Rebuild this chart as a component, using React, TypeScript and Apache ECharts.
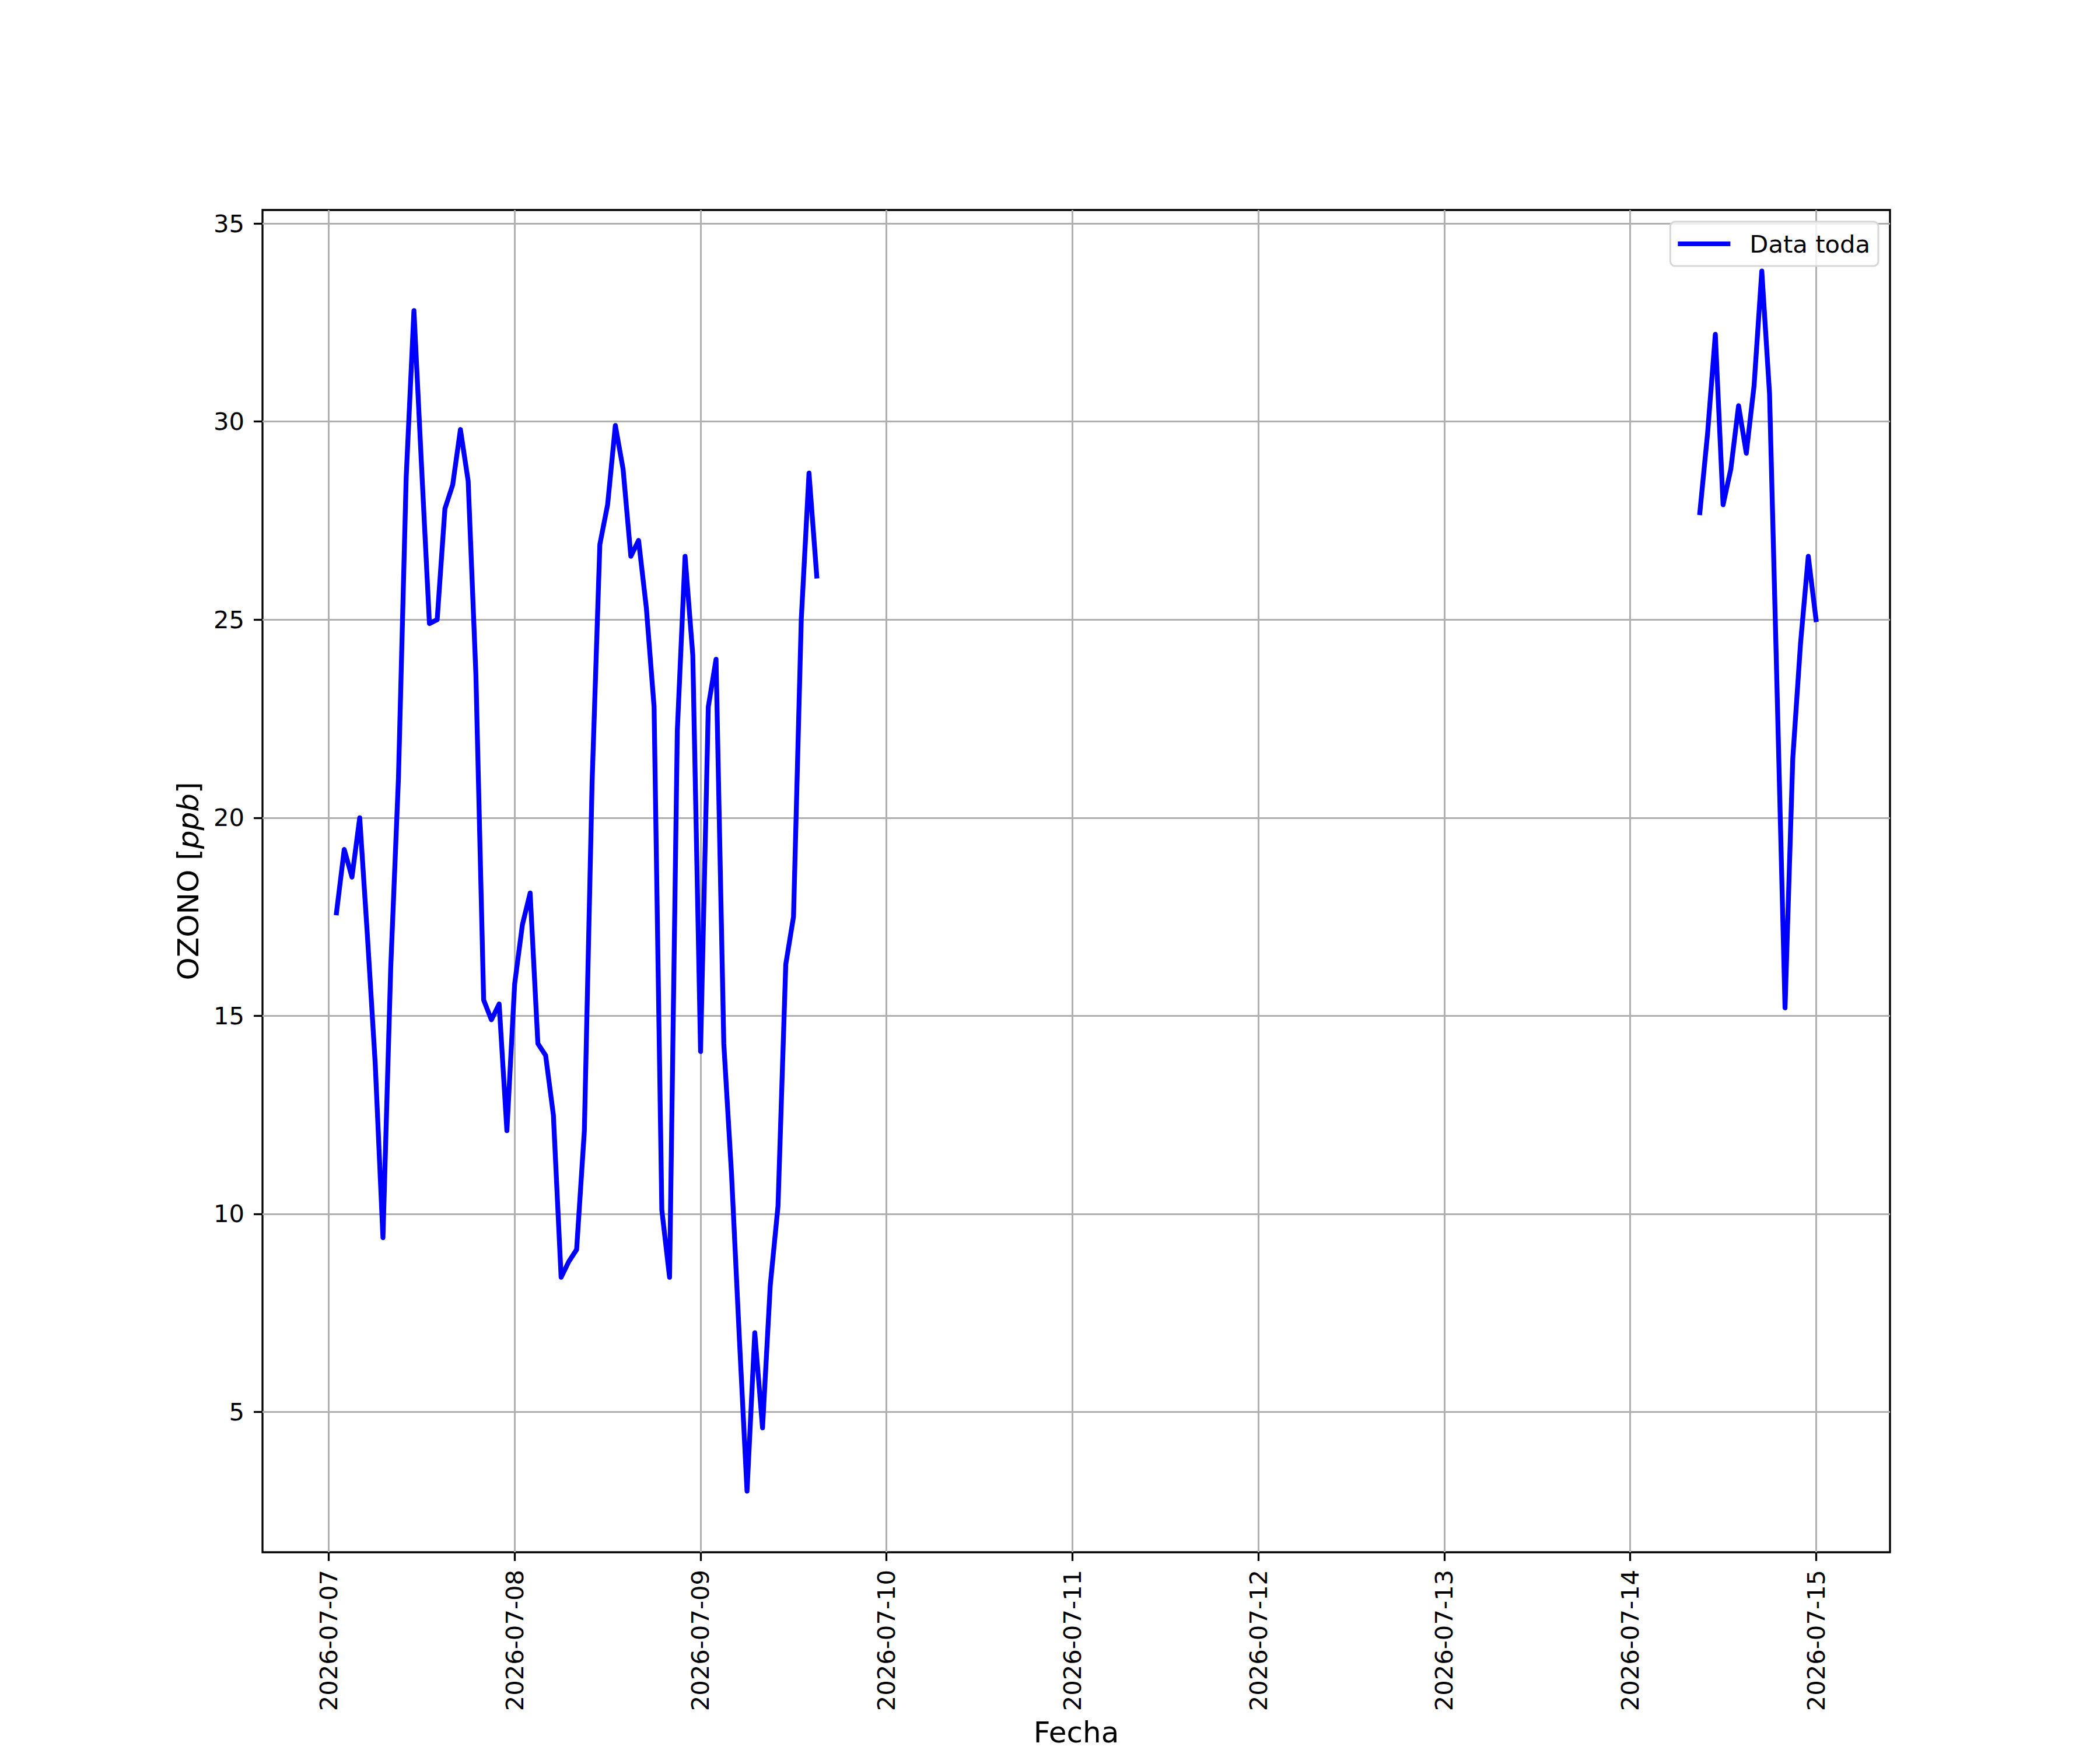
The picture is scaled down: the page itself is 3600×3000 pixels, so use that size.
import React, { useEffect, useRef } from "react";
import * as echarts from "echarts";

// Hourly ozone readings (ppb)
const SERIES_NAME = "Data toda";
const SEG1_START = "2026-07-07T01:00:00Z";
const SEG1_VALUES = [
  17.6, 19.2, 18.5, 20.0, 17.0, 13.8, 9.4, 16.2, 21.0, 28.6, 32.8, 28.8,
  24.9, 25.0, 27.8, 28.4, 29.8, 28.5, 23.6, 15.4, 14.9, 15.3, 12.1, 15.8,
  17.3, 18.1, 14.3, 14.0, 12.5, 8.4, 8.8, 9.1, 12.1, 20.9, 26.9, 27.9,
  29.9, 28.8, 26.6, 27.0, 25.3, 22.8, 10.1, 8.4, 22.2, 26.6, 24.1, 14.1,
  22.8, 24.0, 14.3, 11.0, 6.9, 3.0, 7.0, 4.6, 8.2, 10.2, 16.3, 17.5,
  25.0, 28.7, 26.1,
];
const SEG2_START = "2026-07-14T09:00:00Z";
const SEG2_VALUES = [
  27.7, 29.7, 32.2, 27.9, 28.8, 30.4, 29.2, 30.9, 33.8, 30.7, 23.0, 15.2,
  21.5, 24.4, 26.6, 25.0,
];
const X_TICK_DATES = [
  "2026-07-07", "2026-07-08", "2026-07-09", "2026-07-10", "2026-07-11",
  "2026-07-12", "2026-07-13", "2026-07-14", "2026-07-15",
];
const Y_TICKS = [5, 10, 15, 20, 25, 30, 35];
const X_LABEL = "Fecha";
const Y_LABEL = "OZONO [{i|ppb}]";

const HOUR = 3600 * 1000;
const FONT = "DejaVu Sans";

function pad2(n: number) {
  return n < 10 ? "0" + n : "" + n;
}
function fmtDate(t: number) {
  const d = new Date(Math.round(t));
  return d.getUTCFullYear() + "-" + pad2(d.getUTCMonth() + 1) + "-" + pad2(d.getUTCDate());
}

export default function App() {
  const ref = useRef<HTMLDivElement>(null);
  useEffect(() => {
    document.body.style.margin = "0";
    if (!ref.current) return;
    const chart = echarts.init(ref.current, undefined, { renderer: "svg" });

    const s1 = Date.parse(SEG1_START);
    const s2 = Date.parse(SEG2_START);
    const data: any[] = [];
    SEG1_VALUES.forEach((v, i) => data.push([s1 + i * HOUR, v]));
    data.push([s1 + SEG1_VALUES.length * HOUR, null]);
    SEG2_VALUES.forEach((v, i) => data.push([s2 + i * HOUR, v]));

    const tFirst = s1;
    const tLast = s2 + (SEG2_VALUES.length - 1) * HOUR;
    const xPad = (tLast - tFirst) * 0.05;
    const allV = SEG1_VALUES.concat(SEG2_VALUES);
    const vMin = Math.min(...allV);
    const vMax = Math.max(...allV);
    const yPad = (vMax - vMin) * 0.05;

    const xTicks = X_TICK_DATES.map((d) => Date.parse(d + "T00:00:00Z"));

    chart.setOption({
      animation: false,
      backgroundColor: "#ffffff",
      textStyle: { fontFamily: FONT },
      grid: {
        left: 450,
        right: 360,
        top: 360,
        bottom: 330,
        show: true,
        borderColor: "#000000",
        borderWidth: 3.3,
        backgroundColor: "transparent",
        containLabel: false,
      },
      legend: {
        show: true,
        right: 380,
        top: 380,
        orient: "vertical",
        data: [{ name: SERIES_NAME, icon: "rect" }],
        itemWidth: 90,
        itemHeight: 8,
        padding: [13, 14, 13, 13],
        backgroundColor: "rgba(255,255,255,0.8)",
        borderColor: "#d6d6d6",
        borderWidth: 3,
        borderRadius: 8,
        textStyle: {
          fontFamily: FONT,
          fontSize: 41.7,
          color: "#000000",
          lineHeight: 50,
          padding: [0, 0, 0, 28],
        },
      },
      xAxis: {
        type: "value",
        min: tFirst - xPad,
        max: tLast + xPad,
        name: X_LABEL,
        nameLocation: "middle",
        nameGap: 284,
        nameTextStyle: { fontFamily: FONT, fontSize: 50, color: "#000000" },
        axisLine: { show: false },
        axisTick: {
          show: true,
          inside: false,
          length: 15,
          lineStyle: { color: "#000000", width: 3.3 },
          customValues: xTicks,
        },
        axisLabel: {
          show: true,
          rotate: 90,
          margin: 30,
          fontFamily: FONT,
          fontSize: 41.7,
          color: "#000000",
          customValues: xTicks,
          formatter: (v: number) => fmtDate(v),
        },
        splitLine: {
          show: true,
          lineStyle: { color: "#b0b0b0", width: 3 },
        },
      },
      yAxis: {
        type: "value",
        min: vMin - yPad,
        max: vMax + yPad,
        name: Y_LABEL,
        nameLocation: "middle",
        nameRotate: 90,
        nameGap: 102,
        nameTextStyle: {
          fontFamily: FONT,
          fontSize: 50,
          color: "#000000",
          rich: {
            i: { fontFamily: FONT, fontSize: 50, fontStyle: "italic", color: "#000000" },
          },
        },
        axisLine: { show: false },
        axisTick: {
          show: true,
          inside: false,
          length: 15,
          lineStyle: { color: "#000000", width: 3.3 },
          customValues: Y_TICKS,
        },
        axisLabel: {
          show: true,
          margin: 31,
          fontFamily: FONT,
          fontSize: 41.7,
          color: "#000000",
          customValues: Y_TICKS,
          formatter: (v: number) => String(Math.round(v)),
        },
        splitLine: {
          show: true,
          lineStyle: { color: "#b0b0b0", width: 3 },
        },
      },
      series: [
        {
          name: SERIES_NAME,
          type: "line",
          data,
          showSymbol: false,
          connectNulls: false,
          color: "#0000ff",
          lineStyle: { color: "#0000ff", width: 8.3, cap: "square", join: "round" },
          z: 3,
        },
      ],
    });
    return () => chart.dispose();
  }, []);
  return <div ref={ref} style={{ width: 3600, height: 3000 }} />;
}
